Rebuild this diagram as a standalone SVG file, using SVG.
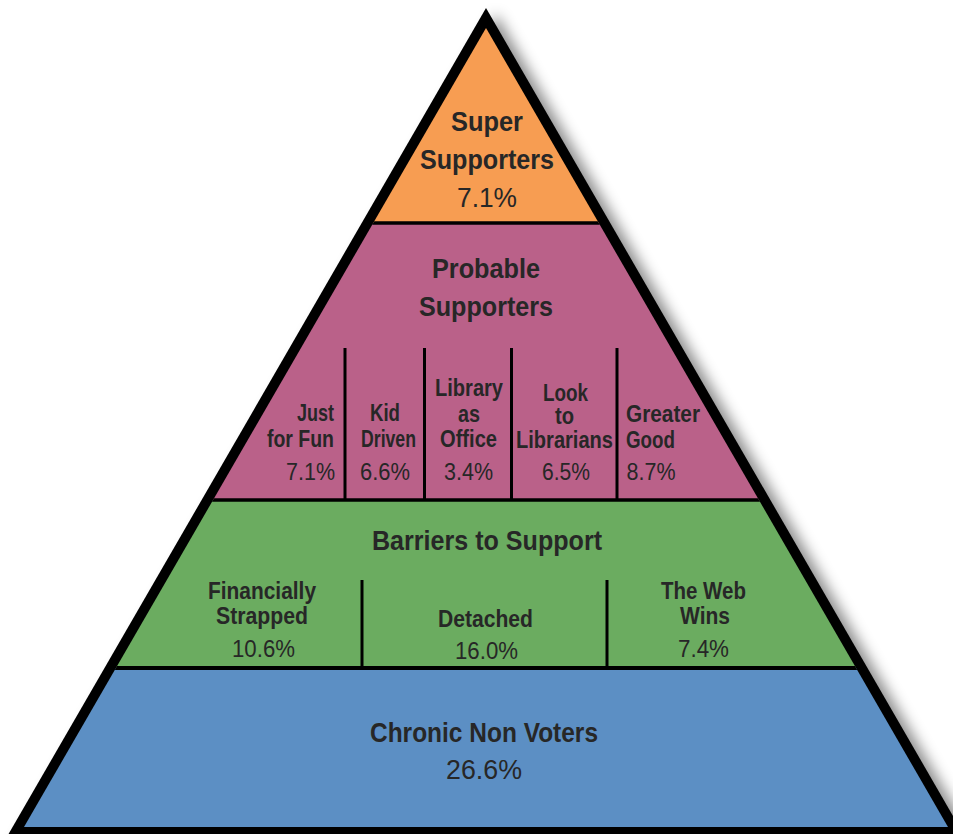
<svg xmlns="http://www.w3.org/2000/svg" width="953" height="834" viewBox="0 0 953 834">
<style>
text{font-family:"Liberation Sans",Arial,sans-serif;fill:#272727}
.h{font-size:28px;font-weight:bold}
.hp{font-size:28px}
.s{font-size:24px;font-weight:bold}
.sp{font-size:24px}
.ln{stroke:#000;stroke-width:3.5;fill:none}
.dv{stroke:#000;stroke-width:3;fill:none}
</style>
<defs>
<clipPath id="inner"><polygon points="486,28 24,827 948,827"/></clipPath>
<filter id="sh" x="-10%" y="-10%" width="130%" height="130%">
<feDropShadow dx="10" dy="6" stdDeviation="7" flood-color="#000" flood-opacity="0.45"/>
</filter>
</defs>
<polygon id="frame" points="486,8 -0.7,850 972.7,850" fill="#000" filter="url(#sh)"/>
<g clip-path="url(#inner)">
<rect id="band-super" x="0" y="0" width="953" height="223" fill="#F79D52"/>
<rect id="band-probable" x="0" y="223" width="953" height="277" fill="#BA6189"/>
<rect id="band-barriers" x="0" y="500" width="953" height="168" fill="#6BAC60"/>
<rect id="band-chronic" x="0" y="668" width="953" height="180" fill="#5C8FC4"/>
<g id="connectors">
<line class="ln" x1="0" y1="223" x2="953" y2="223"/>
<line class="ln" x1="0" y1="500" x2="953" y2="500"/>
<line class="ln" x1="0" y1="668" x2="953" y2="668" style="stroke-width:4"/>
<line class="dv" x1="345" y1="348" x2="345" y2="500"/>
<line class="dv" x1="424.5" y1="348" x2="424.5" y2="500"/>
<line class="dv" x1="511.5" y1="348" x2="511.5" y2="500"/>
<line class="dv" x1="617" y1="348" x2="617" y2="500"/>
<line class="dv" x1="362" y1="580" x2="362" y2="668"/>
<line class="dv" x1="607" y1="580" x2="607" y2="668"/>
</g>
</g>
<g id="super-supporters">
<text class="h" x="451" y="131" textLength="72" lengthAdjust="spacingAndGlyphs">Super</text>
<text class="h" x="420" y="169" textLength="134" lengthAdjust="spacingAndGlyphs">Supporters</text>
<text class="hp" x="457" y="207" textLength="60" lengthAdjust="spacingAndGlyphs">7.1%</text>
</g>
<g id="probable-supporters">
<text class="h" x="432" y="278" textLength="108" lengthAdjust="spacingAndGlyphs">Probable</text>
<text class="h" x="419" y="316" textLength="134" lengthAdjust="spacingAndGlyphs">Supporters</text>
</g>
<g id="just-for-fun">
<text class="s" x="297" y="421" textLength="37" lengthAdjust="spacingAndGlyphs">Just</text>
<text class="s" x="267" y="447" textLength="67" lengthAdjust="spacingAndGlyphs">for Fun</text>
<text class="sp" x="286" y="480" textLength="49" lengthAdjust="spacingAndGlyphs">7.1%</text>
</g>
<g id="kid-driven">
<text class="s" x="370" y="421" textLength="30" lengthAdjust="spacingAndGlyphs">Kid</text>
<text class="s" x="361" y="447" textLength="55" lengthAdjust="spacingAndGlyphs">Driven</text>
<text class="sp" x="360" y="480" textLength="50" lengthAdjust="spacingAndGlyphs">6.6%</text>
</g>
<g id="library-as-office">
<text class="s" x="435" y="396" textLength="68" lengthAdjust="spacingAndGlyphs">Library</text>
<text class="s" x="458" y="422" textLength="22" lengthAdjust="spacingAndGlyphs">as</text>
<text class="s" x="440" y="447" textLength="57" lengthAdjust="spacingAndGlyphs">Office</text>
<text class="sp" x="444" y="480" textLength="49" lengthAdjust="spacingAndGlyphs">3.4%</text>
</g>
<g id="look-to-librarians">
<text class="s" x="543" y="401" textLength="45" lengthAdjust="spacingAndGlyphs">Look</text>
<text class="s" x="555" y="424" textLength="19" lengthAdjust="spacingAndGlyphs">to</text>
<text class="s" x="516" y="448" textLength="97" lengthAdjust="spacingAndGlyphs">Librarians</text>
<text class="sp" x="542" y="480" textLength="48" lengthAdjust="spacingAndGlyphs">6.5%</text>
</g>
<g id="greater-good">
<text class="s" x="626" y="422" textLength="74" lengthAdjust="spacingAndGlyphs">Greater</text>
<text class="s" x="626" y="448" textLength="49" lengthAdjust="spacingAndGlyphs">Good</text>
<text class="sp" x="626.5" y="480" textLength="49" lengthAdjust="spacingAndGlyphs">8.7%</text>
</g>
<g id="barriers-to-support">
<text class="h" x="372" y="550" textLength="230" lengthAdjust="spacingAndGlyphs">Barriers to Support</text>
</g>
<g id="financially-strapped">
<text class="s" x="208" y="599" textLength="108" lengthAdjust="spacingAndGlyphs">Financially</text>
<text class="s" x="216" y="624" textLength="92" lengthAdjust="spacingAndGlyphs">Strapped</text>
<text class="sp" x="232" y="657" textLength="63" lengthAdjust="spacingAndGlyphs">10.6%</text>
</g>
<g id="detached">
<text class="s" x="438" y="627" textLength="95" lengthAdjust="spacingAndGlyphs">Detached</text>
<text class="sp" x="455" y="659" textLength="63" lengthAdjust="spacingAndGlyphs">16.0%</text>
</g>
<g id="the-web-wins">
<text class="s" x="661" y="599" textLength="85" lengthAdjust="spacingAndGlyphs">The Web</text>
<text class="s" x="680" y="624" textLength="50" lengthAdjust="spacingAndGlyphs">Wins</text>
<text class="sp" x="678" y="657" textLength="51" lengthAdjust="spacingAndGlyphs">7.4%</text>
</g>
<g id="chronic-non-voters">
<text class="h" x="370" y="742" textLength="228" lengthAdjust="spacingAndGlyphs">Chronic Non Voters</text>
<text class="hp" x="446" y="779" textLength="76" lengthAdjust="spacingAndGlyphs">26.6%</text>
</g>
</svg>
